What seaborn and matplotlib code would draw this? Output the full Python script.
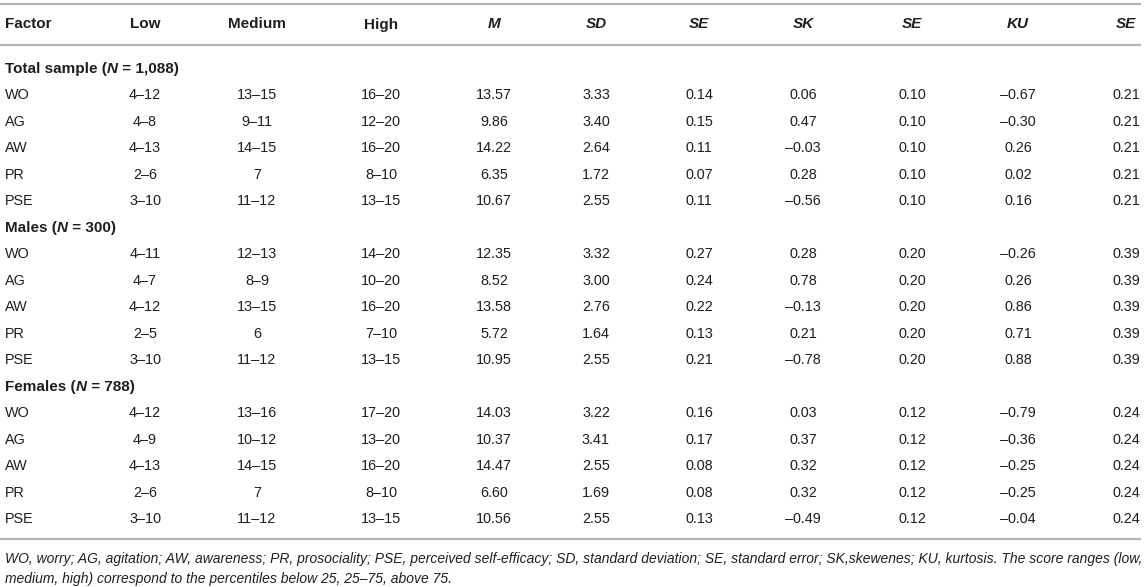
import matplotlib
matplotlib.use("Agg")
import matplotlib.pyplot as plt
import seaborn as sns

# table contents
columns = ["Factor", "Low", "Medium", "High", "M", "SD", "SE", "SK", "SE", "KU", "SE"]
italic_cols = [False, False, False, False, True, True, True, True, True, True, True]

groups = ["Total sample", "Males", "Females"]
group_n = ["1,088", "300", "788"]
factors = ["WO", "AG", "AW", "PR", "PSE"]

low = ["4–12", "4–8", "4–13", "2–6", "3–10",
       "4–11", "4–7", "4–12", "2–5", "3–10",
       "4–12", "4–9", "4–13", "2–6", "3–10"]
medium = ["13–15", "9–11", "14–15", "7", "11–12",
          "12–13", "8–9", "13–15", "6", "11–12",
          "13–16", "10–12", "14–15", "7", "11–12"]
high = ["16–20", "12–20", "16–20", "8–10", "13–15",
        "14–20", "10–20", "16–20", "7–10", "13–15",
        "17–20", "13–20", "16–20", "8–10", "13–15"]
mean = [13.57, 9.86, 14.22, 6.35, 10.67,
        12.35, 8.52, 13.58, 5.72, 10.95,
        14.03, 10.37, 14.47, 6.60, 10.56]
sd = [3.33, 3.40, 2.64, 1.72, 2.55,
      3.32, 3.00, 2.76, 1.64, 2.55,
      3.22, 3.41, 2.55, 1.69, 2.55]
se_m = [0.14, 0.15, 0.11, 0.07, 0.11,
        0.27, 0.24, 0.22, 0.13, 0.21,
        0.16, 0.17, 0.08, 0.08, 0.13]
skew = [0.06, 0.47, -0.03, 0.28, -0.56,
        0.28, 0.78, -0.13, 0.21, -0.78,
        0.03, 0.37, 0.32, 0.32, -0.49]
se_sk = [0.10] * 5 + [0.20] * 5 + [0.12] * 5
kurt = [-0.67, -0.30, 0.26, 0.02, 0.16,
        -0.26, 0.26, 0.86, 0.71, 0.88,
        -0.79, -0.36, -0.25, -0.25, -0.04]
se_ku = [0.21] * 5 + [0.39] * 5 + [0.24] * 5

footnote = [
    "WO, worry; AG, agitation; AW, awareness; PR, prosociality; PSE, perceived self-efficacy; "
    "SD, standard deviation; SE, standard error; SK,skewenes; KU, kurtosis. The score ranges (low,",
    "medium, high) correspond to the percentiles below 25, 25–75, above 75.",
]

sns.set_theme(style="white")
plt.rcParams["font.family"] = ["Liberation Sans", "DejaVu Sans"]

TXT = "#1f1f1f"
RULE = "#b4b4b4"
FS = 10.4
FS_BOLD = 11.0

# layout (pixels)
col_x = [5, 145, 257, 381, 494, 596, 699, 803, 912, 1018, 1126]
header_y = 28.5
row0_y = 72.8
row_h = 26.5

fig = plt.figure(figsize=(11.46, 5.87), dpi=100)
ax = fig.add_axes([0, 0, 1, 1])
ax.set_xlim(0, 1146)
ax.set_ylim(587, 0)
ax.axis("off")
fig.canvas.draw()
renderer = fig.canvas.get_renderer()


def fmt(v):
    s = f"{v:.2f}"
    return s.replace("-", "–")


def draw_segments(x, y, parts):
    # parts: list of (text, style)
    for text, style in parts:
        t = ax.text(x, y, text, fontsize=FS_BOLD, color=TXT, fontweight="bold",
                    fontstyle=style, ha="left", va="baseline")
        bb = t.get_window_extent(renderer)
        x += bb.width


for y in (4, 45, 539):
    ax.plot([0, 1141], [y, y], color=RULE, lw=1.6, solid_capstyle="butt")

for i, name in enumerate(columns):
    ax.text(col_x[i], header_y, name, fontsize=FS_BOLD, color=TXT, fontweight="bold",
            fontstyle="italic" if italic_cols[i] else "normal",
            ha="left" if i == 0 else "center", va="baseline")

row = 0
k = 0
for g, n in zip(groups, group_n):
    y = row0_y + row * row_h
    draw_segments(col_x[0], y, [(g + " (", "normal"),
                                ("N", "italic"),
                                (" = " + n + ")", "normal")])
    row += 1
    for f in factors:
        y = row0_y + row * row_h
        cells = [low[k], medium[k], high[k], fmt(mean[k]), fmt(sd[k]), fmt(se_m[k]),
                 fmt(skew[k]), fmt(se_sk[k]), fmt(kurt[k]), fmt(se_ku[k])]
        ax.text(col_x[0], y, f, fontsize=FS, color=TXT, ha="left", va="baseline")
        for j, c in enumerate(cells):
            ax.text(col_x[j + 1], y, c, fontsize=FS, color=TXT, ha="center", va="baseline")
        row += 1
        k += 1

# footnote sized so the first line runs to the right rule end
probe = ax.text(5, 563.5, footnote[0], fontsize=10, fontstyle="italic")
w = probe.get_window_extent(renderer).width
probe.remove()
fn_size = 10 * 1135 / w
ax.text(5, 563.5, footnote[0], fontsize=fn_size, color=TXT, fontstyle="italic",
        ha="left", va="baseline")
ax.text(5, 582.5, footnote[1], fontsize=fn_size, color=TXT, fontstyle="italic",
        ha="left", va="baseline")

fig.savefig("out.png", dpi=100)
